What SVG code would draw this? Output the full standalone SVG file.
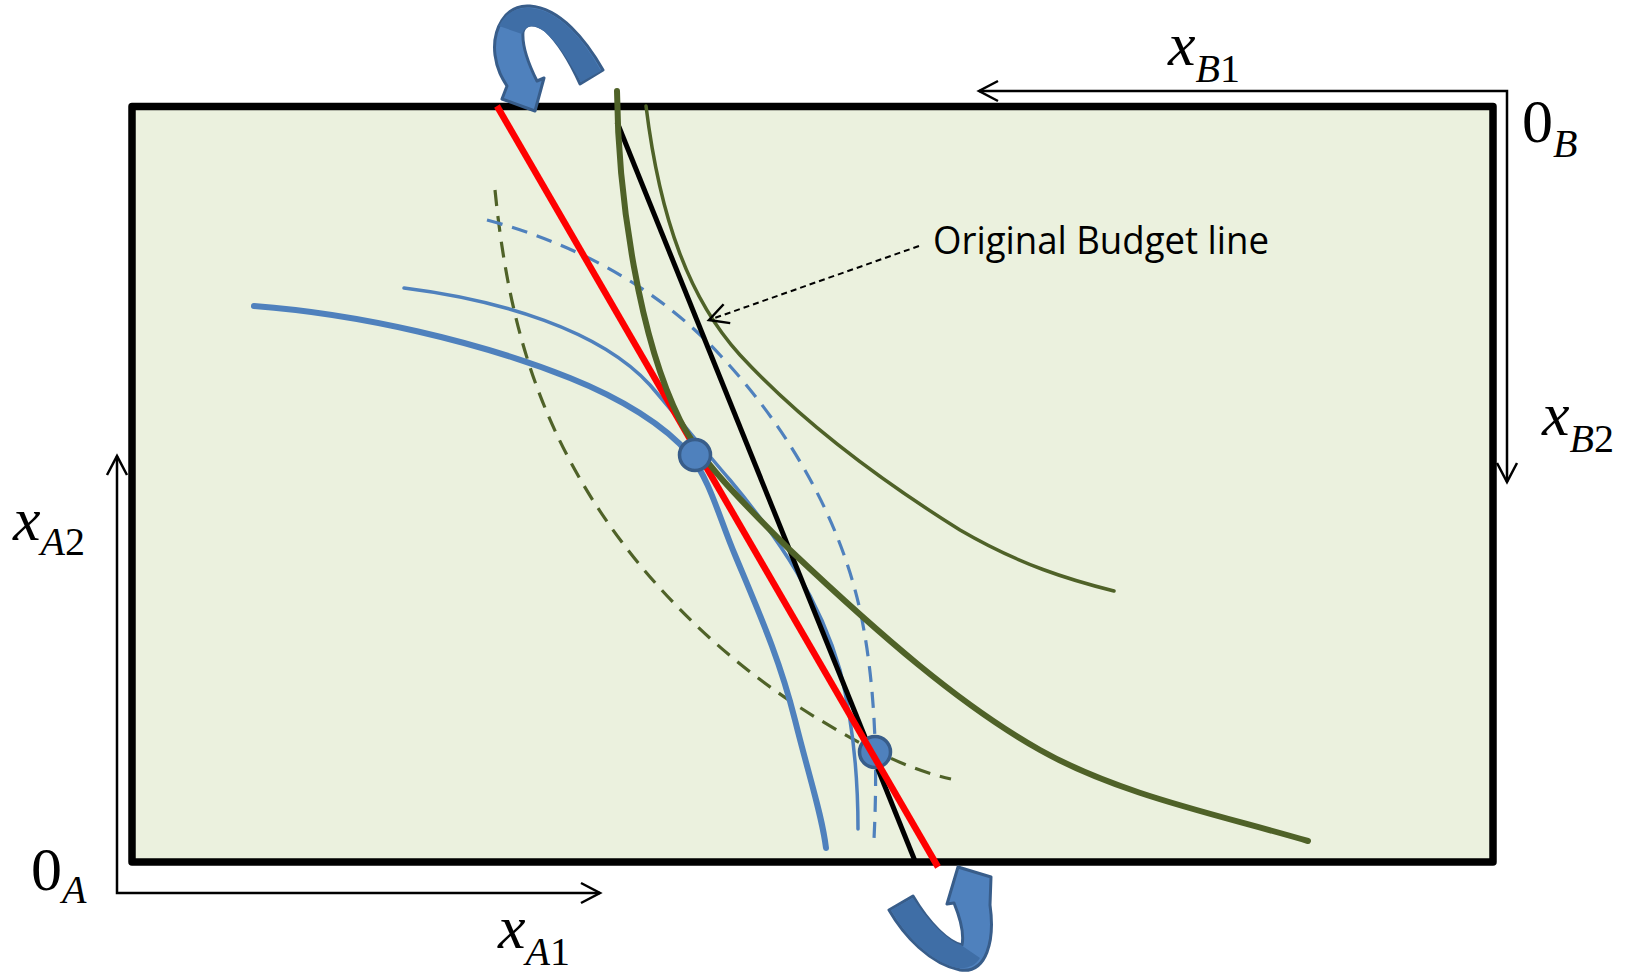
<svg xmlns="http://www.w3.org/2000/svg" width="1625" height="973" viewBox="0 0 1625 973">
<defs>
<style>
.lbl{font-family:"Liberation Serif","Times New Roman",serif;font-size:62px;fill:#000}
.it{font-style:italic}
.sub{font-size:40px}
.ax{fill:none;stroke:#000;stroke-width:2.5}
.blue{fill:none;stroke:#4f81bd;stroke-linecap:round}
.green{fill:none;stroke:#4f6228;stroke-linecap:round}
.dash{stroke-width:3.2;stroke-dasharray:16 10;stroke-linecap:butt}
.dot{fill:#4f81bd;stroke:#385d8a;stroke-width:3.5}
.carrow{stroke:#385d8a;stroke-width:3;stroke-linejoin:round}
</style>
<marker id="open" viewBox="0 0 22 22" refX="20" refY="11" markerWidth="22" markerHeight="22" markerUnits="userSpaceOnUse" orient="auto-start-reverse" overflow="visible">
<path d="M1,1 L20,11 L1,21" fill="none" stroke="#000" stroke-width="2.5" stroke-dasharray="none"/>
</marker>
</defs>
<rect width="1625" height="973" fill="#fff"/>
<g id="box">
<rect x="132" y="106.5" width="1361" height="755.5" fill="#ebf1de" stroke="#000" stroke-width="7.5" stroke-linejoin="round"/>
</g>
<g id="axes">
<polyline class="ax" points="600,893 117,893 117,456" marker-start="url(#open)" marker-end="url(#open)"/>
<polyline class="ax" points="979,91 1507,91 1507,482" marker-start="url(#open)" marker-end="url(#open)"/>
</g>
<g id="labels">
<text class="lbl" x="13" y="540"><tspan class="it">x</tspan><tspan class="sub it" dy="15">A</tspan><tspan class="sub">2</tspan></text>
<text class="lbl" x="31" y="890">0<tspan class="sub it" dy="13">A</tspan></text>
<text class="lbl" x="498" y="948"><tspan class="it">x</tspan><tspan class="sub it" dy="17">A</tspan><tspan class="sub">1</tspan></text>
<text class="lbl" x="1168" y="65"><tspan class="it">x</tspan><tspan class="sub it" dy="17">B</tspan><tspan class="sub">1</tspan></text>
<text class="lbl" x="1522" y="142">0<tspan class="sub it" dy="15">B</tspan></text>
<text class="lbl" x="1542" y="435"><tspan class="it">x</tspan><tspan class="sub it" dy="17">B</tspan><tspan class="sub">2</tspan></text>
</g>
<g id="connectors">
<path id="green-dashed" class="green dash" d="M495,190 C505,290 525,380 575,470 C630,570 720,660 820,720 C870,750 910,770 951,779"/>
<path id="blue-dashed" class="blue dash" d="M487,220 C580,245 660,290 720,355 C790,430 840,520 860,610 C875,680 878,760 874,839"/>
<path id="blue-thin" class="blue" stroke-width="3.5" d="M404,288 C500,300 600,330 650,385 C680,420 700,445 730,480 C780,540 820,600 840,670 C855,730 858,790 858,829"/>
<path id="green-thin" class="green" stroke-width="3.5" d="M646,106 C660,220 690,300 740,355 C800,420 880,480 960,530 C1020,565 1070,580 1114,591"/>
<line id="original-budget" x1="617" y1="122" x2="915" y2="861" stroke="#000" stroke-width="5"/>
<circle id="point-2" class="dot" cx="875" cy="752" r="15.5"/>
<line id="new-budget" x1="497" y1="106" x2="938" y2="867" stroke="#f00" stroke-width="6.5"/>
<path id="green-thick" class="green" stroke-width="6" d="M617,91 C618,200 640,340 680,420 C700,460 740,500 790,550 C880,635 960,705 1040,750 C1120,795 1220,815 1308,841"/>
<path id="blue-thick" class="blue" stroke-width="6" d="M254,306 C360,314 480,342 570,378 C620,398 665,425 690,455 C710,480 720,520 735,555 C760,615 780,660 795,720 C810,780 822,815 826,848"/>
<circle id="point-1" class="dot" cx="695" cy="455" r="15.5"/>
<path id="label-pointer" d="M919,246 L709,320" fill="none" stroke="#000" stroke-width="2" stroke-dasharray="6 4" marker-end="url(#open)"/>
</g>
<g id="note">
<text x="933" y="254" font-family="'Open Sans','Noto Sans',sans-serif" font-size="38" textLength="336" lengthAdjust="spacingAndGlyphs" fill="#000">Original Budget line</text>
</g>
<g id="rotate-top">
<path class="carrow" fill="#4f81bd" d="M603,70 C586,40 560,8 530,6 C505,4 492,30 495,55 C497,70 502,78 507,86 L502,99 L535,111 L544,78 L537,81 C529,65 522,45 523,32 C525,23 535,23 545,30 C560,44 571,64 580,84 Z"/>
<path fill="#3f6ea6" d="M601,71 C585,42 560,10 530,8 C515,7 505,14 499,26 L522,34 C526,24 535,24 545,32 C560,45 570,64 581,82 Z"/>
</g>
<g id="rotate-bottom">
<path class="carrow" fill="#4f81bd" d="M889,910 C904,936 930,964 960,970 C987,974 995,940 990,905 L991,877 L958,867 L947,904 L954,903 C961,920 964,935 962,945 C949,942 930,925 913,896 Z"/>
<path fill="#3f6ea6" d="M891,910 C906,936 930,962 958,968 C968,969 976,965 980,958 L961,945 C949,941 930,924 913,898 Z"/>
</g>
</svg>
